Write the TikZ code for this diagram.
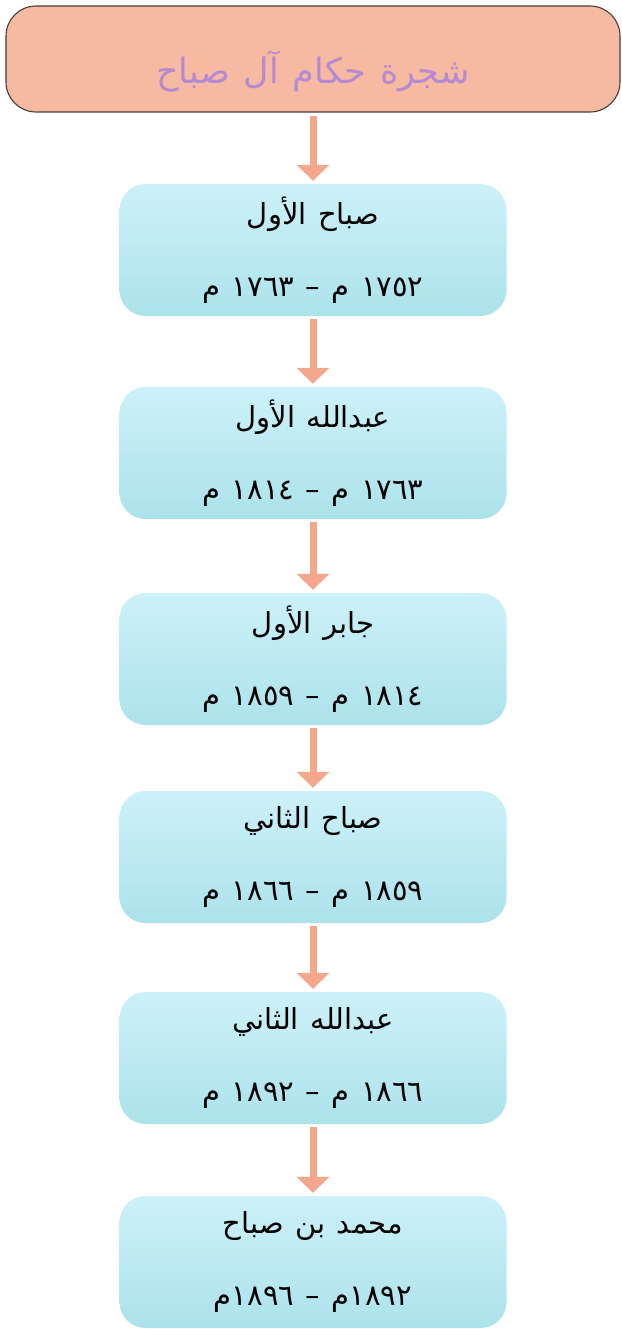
\documentclass[tikz,border=0pt]{standalone}
\usepackage{fontspec}
\setmainfont{DejaVu Sans}
\newfontfamily\arabicfont[Script=Arabic,WordSpace=1.25]{DejaVu Sans}
\TeXXeTstate=1
\usetikzlibrary{arrows.meta}
\definecolor{titlefill}{HTML}{F6B9A2}
\definecolor{titleline}{HTML}{4A3C37}
\definecolor{titletext}{HTML}{B58AD0}
\definecolor{rulertop}{HTML}{CDF1F8}
\definecolor{rulerbot}{HTML}{ACE2EB}
\definecolor{flowcol}{HTML}{F4A78C}
\newcommand{\arline}[1]{\beginR #1\endR}
\tikzset{
  treetitle/.style={draw=titleline, line width=1.1pt, fill=titlefill, rounded corners=30pt,
    minimum width=614pt, minimum height=106pt, text=titletext,
    text height=50pt, text depth=0pt,
    font=\arabicfont\fontsize{35}{42}\selectfont},
  ruler/.style={rounded corners=26pt, top color=rulertop, bottom color=rulerbot,
    minimum width=387pt, minimum height=132pt, align=center,
    font=\arabicfont\fontsize{29}{35}\selectfont},
  flow/.style={draw=flowcol, line width=7pt, -{Triangle[width=32pt,length=16pt]},
    shorten <=3pt, shorten >=3pt}
}

\begin{document}
\begin{tikzpicture}[x=1pt,y=-1pt]
\useasboundingbox (0,0) rectangle (621,1329);

\node[treetitle] (t) at (313,59) {\arline{شجرة حكام آل صباح}};

\node[ruler] (b1) at (313,250) {\arline{صباح الأول}\\[37pt]\arline{١٧٥٢ م – ١٧٦٣ م}};
\node[ruler] (b2) at (313,453) {\arline{عبدالله الأول}\\[37pt]\arline{١٧٦٣ م – ١٨١٤ م}};
\node[ruler] (b3) at (313,659) {\arline{جابر الأول}\\[37pt]\arline{١٨١٤ م – ١٨٥٩ م}};
\node[ruler] (b4) at (313,857) {\arline{صباح الثاني}\\[37pt]\arline{١٨٥٩ م – ١٨٦٦ م}};
\node[ruler] (b5) at (313,1058) {\arline{عبدالله الثاني}\\[37pt]\arline{١٨٦٦ م – ١٨٩٢ م}};
\node[ruler] (b6) at (313,1262) {\arline{محمد بن صباح}\\[37pt]\arline{١٨٩٢م – ١٨٩٦م}};

\draw[flow] (t) -- (b1);
\draw[flow] (b1) -- (b2);
\draw[flow] (b2) -- (b3);
\draw[flow] (b3) -- (b4);
\draw[flow] (b4) -- (b5);
\draw[flow] (b5) -- (b6);
\end{tikzpicture}
\end{document}
